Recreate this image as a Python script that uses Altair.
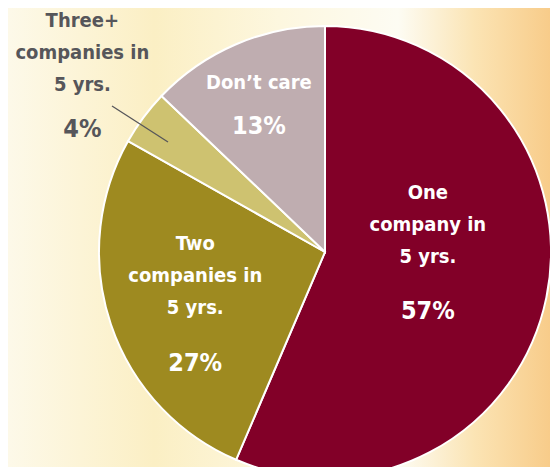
import altair as alt
import pandas as pd

categories = ["One company in 5 yrs.", "Two companies in 5 yrs.", "Three+ companies in 5 yrs.", "Don't care"]
name_labels = ["One\ncompany in\n5 yrs.", "Two\ncompanies in\n5 yrs.", "Three+\ncompanies in\n5 yrs.", "Don’t care"]
values = [57, 27, 4, 13]
pct_labels = ["57%", "27%", "4%", "13%"]
colors = ["#820028", "#9e8a20", "#cec270", "#bfadb0"]

df = pd.DataFrame({
    "category": categories,
    "name": name_labels,
    "value": values,
    "pct": pct_labels,
    "order": list(range(len(categories))),
})

W, H = 542, 459
CX, CY = 317, 244
FONT = "Liberation Sans Narrow, DejaVu Sans Condensed, Arial Narrow, sans-serif"

bg = alt.Chart(pd.DataFrame({"a": [0]})).mark_rect(
    color=alt.Gradient(
        gradient="linear", x1=0, x2=1, y1=0, y2=0,
        stops=[
            alt.GradientStop(offset=0.0, color="#fdf9e9"),
            alt.GradientStop(offset=0.27, color="#fbefc4"),
            alt.GradientStop(offset=0.5, color="#fdf7df"),
            alt.GradientStop(offset=0.72, color="#fdfcf3"),
            alt.GradientStop(offset=0.86, color="#fbe4b4"),
            alt.GradientStop(offset=1.0, color="#f8cc8a"),
        ],
    )
).encode(x=alt.value(0), x2=alt.value(W), y=alt.value(0), y2=alt.value(H))

base = alt.Chart(df).encode(
    theta=alt.Theta("value:Q", stack=True),
    order=alt.Order("order:Q"),
)

pie = base.mark_arc(outerRadius=226, stroke="white", strokeWidth=2).encode(
    color=alt.Color("category:N", scale=alt.Scale(domain=categories, range=colors), legend=None),
    x=alt.value(CX), y=alt.value(CY),
)

# (category, radius, dx, dy_first_line, dy_pct, color)
label_specs = [
    (categories[0], 105, 0, -80, 38, "white"),
    (categories[1], 137, 0, -52, 67, "white"),
    (categories[2], 302, 0, -51, 57, "#56565a"),
    (categories[3], 168, 0, -15, 28, "white"),
]

layers = [bg, pie]
for cat, r, dx, dyn, dyp, col in label_specs:
    pred = alt.datum.category == cat
    layers.append(
        base.mark_text(radius=r, dx=dx, dy=dyn, font=FONT, fontWeight="bold", fontSize=20,
                       lineBreak="\n", lineHeight=32, align="center", baseline="middle", color=col)
        .encode(text=alt.condition(pred, alt.Text("name:N"), alt.value("")),
                x=alt.value(CX), y=alt.value(CY))
    )
    layers.append(
        base.mark_text(radius=r, dx=dx, dy=dyp, font=FONT, fontWeight="bold", fontSize=25,
                       align="center", baseline="middle", color=col)
        .encode(text=alt.condition(pred, alt.Text("pct:N"), alt.value("")),
                x=alt.value(CX), y=alt.value(CY))
    )

leader = alt.Chart(pd.DataFrame({"a": [0]})).mark_rule(color="#56565a", strokeWidth=1.3).encode(
    x=alt.value(104), y=alt.value(98), x2=alt.value(160), y2=alt.value(134)
)
layers.append(leader)

chart = alt.layer(*layers).properties(
    width=W, height=H, padding=0, autosize="none"
).configure_view(stroke=None)

chart.save("out.html", embed_options={"renderer": "svg", "actions": False})
